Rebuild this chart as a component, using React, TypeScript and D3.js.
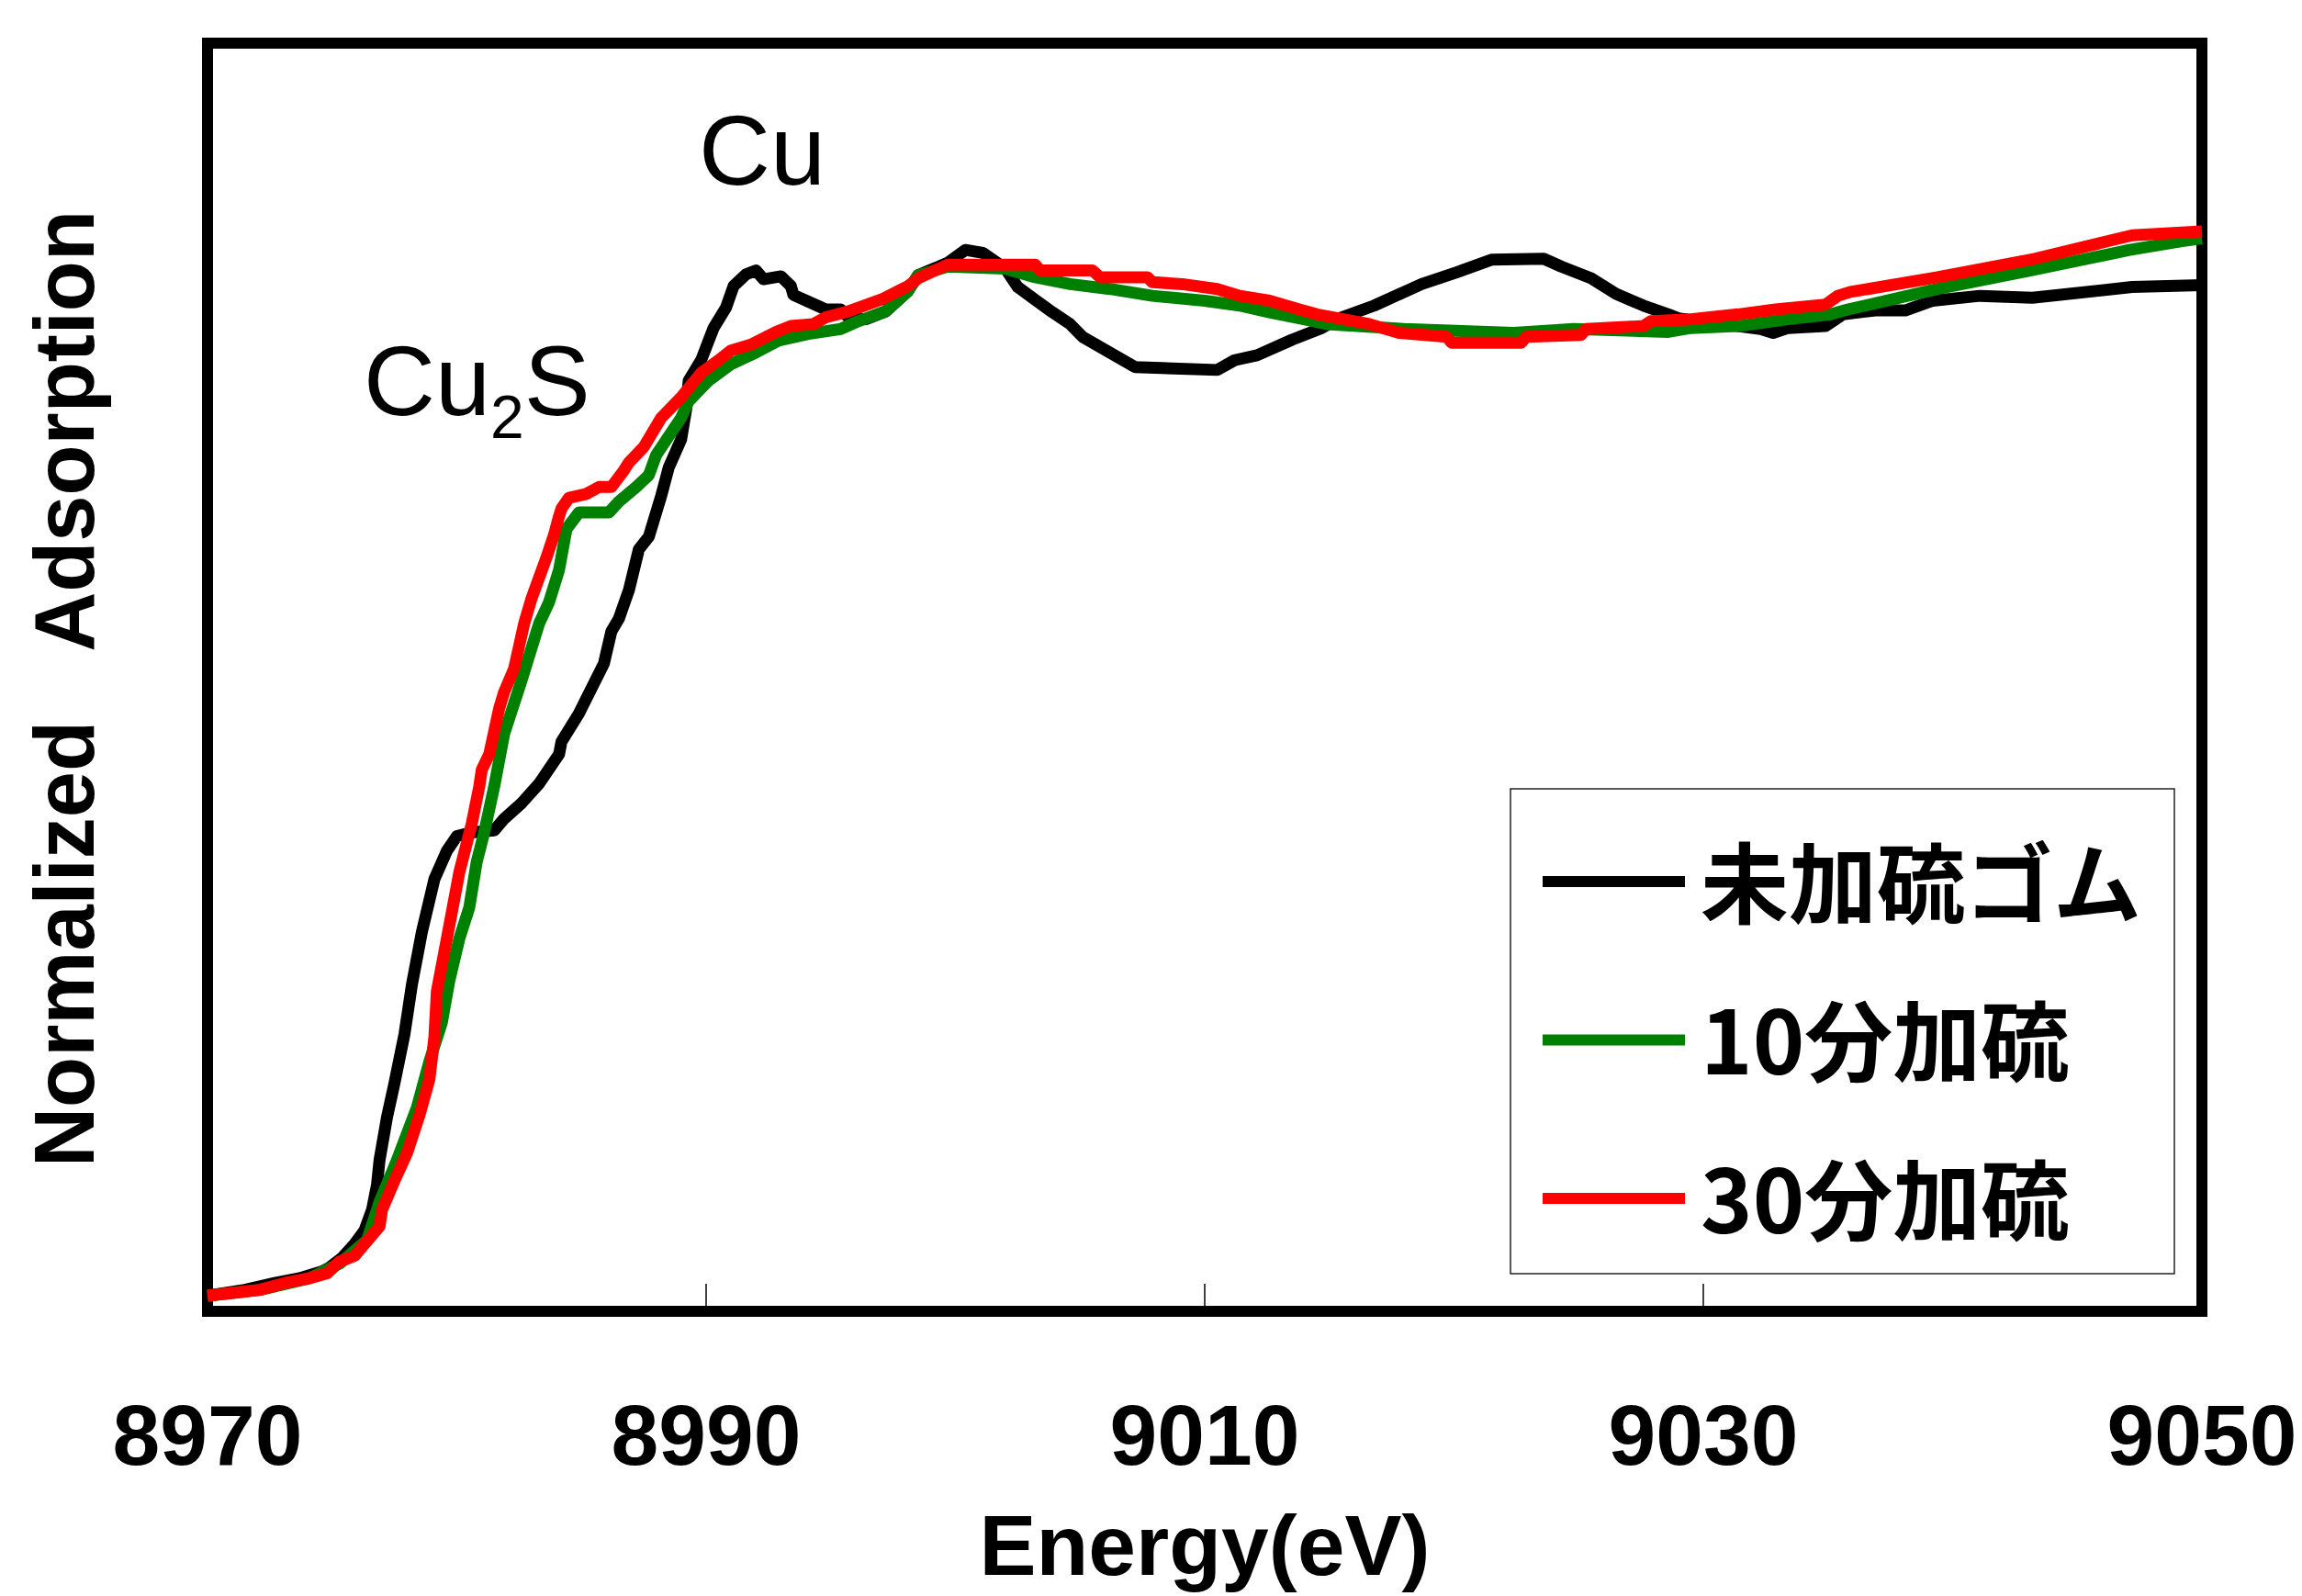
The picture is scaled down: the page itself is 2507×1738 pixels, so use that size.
import React, { useEffect, useRef } from "react";
import * as d3 from "d3";

// 未加硫ゴム
const energyUncured = [
  8970.0, 8971.5, 8972.7, 8973.7, 8974.6, 8974.9, 8975.4, 8975.9, 8976.3, 8976.6,
  8976.8, 8976.9, 8977.2, 8977.5, 8977.9, 8978.2, 8978.6, 8979.1, 8979.6, 8980.0,
  8980.6, 8981.5, 8981.9, 8982.6, 8983.3, 8984.1, 8984.2, 8984.9, 8985.9, 8986.2,
  8986.5, 8986.9, 8987.3, 8987.7, 8988.2, 8988.5, 8989.0, 8989.2, 8989.3, 8989.8,
  8990.3, 8990.8, 8991.1, 8991.6, 8992.0, 8992.3, 8993.0, 8993.4, 8993.5, 8994.8,
  8995.4, 8995.7, 8996.4, 8997.2, 8998.1, 8998.5, 8999.7, 9000.4, 9001.1, 9002.0,
  9002.5, 9003.2, 9003.9, 9004.6, 9005.1, 9007.2, 9010.5, 9011.2, 9012.1, 9013.5,
  9014.7, 9015.4, 9016.8, 9018.7, 9020.1, 9021.5, 9023.6, 9024.3, 9025.5, 9026.5,
  9027.6, 9028.6, 9029.0, 9032.3, 9032.8, 9033.4, 9034.9, 9035.6, 9036.9, 9038.1,
  9039.2, 9041.1, 9043.2, 9047.2, 9050.0
];
const absUncured = [
  0.001, 0.007, 0.014, 0.019, 0.026, 0.030, 0.040, 0.054, 0.068, 0.089,
  0.115, 0.140, 0.184, 0.219, 0.269, 0.320, 0.374, 0.428, 0.457, 0.472,
  0.476, 0.478, 0.490, 0.506, 0.526, 0.556, 0.569, 0.598, 0.649, 0.682,
  0.695, 0.724, 0.766, 0.779, 0.821, 0.850, 0.879, 0.910, 0.939, 0.960,
  0.993, 1.014, 1.036, 1.048, 1.052, 1.043, 1.046, 1.036, 1.027, 1.012,
  1.012, 1.004, 1.002, 1.010, 1.031, 1.047, 1.060, 1.073, 1.070, 1.054,
  1.035, 1.022, 1.009, 0.997, 0.984, 0.953, 0.950, 0.960, 0.965, 0.981,
  0.993, 1.003, 1.016, 1.038, 1.050, 1.063, 1.064, 1.056, 1.044, 1.028,
  1.016, 1.007, 1.003, 0.992, 0.988, 0.993, 0.995, 1.007, 1.011, 1.011,
  1.021, 1.026, 1.024, 1.035, 1.037
];

// 10分加硫
const energy10 = [
  8970.0, 8972.1, 8974.1, 8975.3, 8976.4, 8976.9, 8977.6, 8978.4, 8978.9, 8979.4,
  8979.7, 8980.1, 8980.5, 8980.8, 8981.1, 8981.5, 8981.9, 8982.6, 8983.3, 8983.7,
  8984.1, 8984.4, 8984.9, 8986.1, 8986.5, 8987.2, 8987.7, 8988.0, 8989.0, 8989.3,
  8990.1, 8991.0, 8992.0, 8992.9, 8994.1, 8995.4, 8996.1, 8997.2, 8998.1, 8998.5,
  8999.7, 9002.0, 9003.2, 9004.6, 9006.2, 9007.9, 9010.0, 9011.4, 9012.6, 9013.8,
  9014.9, 9018.0, 9022.4, 9024.8, 9028.6, 9029.5, 9031.4, 9033.4, 9035.1, 9035.8,
  9039.4, 9043.1, 9047.1, 9049.2, 9050.0
];
const abs10 = [
  0.001, 0.007, 0.019, 0.034, 0.058, 0.097, 0.140, 0.194, 0.241, 0.281,
  0.324, 0.367, 0.399, 0.446, 0.476, 0.523, 0.577, 0.632, 0.690, 0.712,
  0.745, 0.787, 0.804, 0.804, 0.815, 0.830, 0.842, 0.863, 0.901, 0.918,
  0.939, 0.956, 0.968, 0.980, 0.987, 0.992, 1.000, 1.010, 1.031, 1.047,
  1.056, 1.054, 1.045, 1.038, 1.033, 1.026, 1.021, 1.016, 1.009, 1.003,
  0.997, 0.992, 0.988, 0.992, 0.989, 0.993, 0.995, 1.002, 1.007, 1.012,
  1.033, 1.052, 1.073, 1.082, 1.085
];

// 30分加硫
const energy30 = [
  8970.0, 8972.1, 8973.1, 8974.1, 8974.8, 8975.3, 8975.9, 8976.5, 8976.9, 8977.0,
  8977.5, 8978.0, 8978.5, 8978.9, 8979.1, 8979.2, 8979.6, 8980.1, 8980.6, 8980.9,
  8981.0, 8981.3, 8981.7, 8981.9, 8982.3, 8982.7, 8983.0, 8983.6, 8983.9, 8984.1,
  8984.2, 8984.5, 8985.2, 8985.7, 8986.2, 8986.7, 8986.9, 8987.5, 8988.2, 8989.0,
  8989.8, 8990.5, 8991.0, 8991.8, 8992.8, 8993.4, 8994.3, 8994.8, 8995.7, 8997.1,
  8998.1, 8998.5, 8999.7, 9003.2, 9003.4, 9005.5, 9005.8, 9007.7, 9007.9, 9009.1,
  9010.5, 9011.4, 9012.6, 9013.8, 9014.5, 9016.6, 9017.8, 9019.7, 9019.9, 9022.7,
  9022.9, 9025.1, 9025.3, 9027.6, 9027.9, 9029.5, 9031.4, 9032.9, 9034.9, 9035.4,
  9035.9, 9039.4, 9043.3, 9047.2, 9050.0
];
const abs30 = [
  0.001, 0.007, 0.014, 0.019, 0.024, 0.036, 0.042, 0.060, 0.072, 0.089,
  0.119, 0.147, 0.186, 0.223, 0.266, 0.313, 0.367, 0.435, 0.485, 0.523,
  0.540, 0.556, 0.603, 0.620, 0.644, 0.690, 0.716, 0.758, 0.781, 0.800,
  0.808, 0.819, 0.823, 0.830, 0.830, 0.847, 0.855, 0.871, 0.901, 0.922,
  0.947, 0.960, 0.970, 0.976, 0.989, 0.995, 0.997, 1.004, 1.010, 1.023,
  1.036, 1.044, 1.058, 1.058, 1.052, 1.052, 1.045, 1.045, 1.040, 1.038,
  1.033, 1.026, 1.021, 1.012, 1.007, 0.997, 0.988, 0.984, 0.978, 0.978,
  0.984, 0.986, 0.992, 0.995, 1.000, 1.002, 1.007, 1.012, 1.017, 1.026,
  1.030, 1.045, 1.064, 1.088, 1.092
];

const xTicks = [8970, 8990, 9010, 9030, 9050];
const seriesNames = ["未加硫ゴム", "10分加硫", "30分加硫"];
const seriesColors = ["#000000", "#008000", "#ff0000"];

const width = 2507;
const height = 1738;
const plot = { left: 226, right: 2398, top: 47, bottom: 1428 };
const latin = "'Liberation Sans', Arial, sans-serif";
const jp = "'Noto Sans CJK JP', sans-serif";

const App = () => {
  const chart = useRef<SVGSVGElement>(null);

  useEffect(() => {
    const svg = d3.select(chart.current);
    svg.selectAll("*").remove();

    const x = d3.scaleLinear().domain([8970, 9050]).range([plot.left, plot.right]);
    const y = d3.scaleLinear().domain([-0.015, 1.285]).range([plot.bottom, plot.top]);

    // frame
    svg
      .append("rect")
      .attr("x", plot.left)
      .attr("y", plot.top)
      .attr("width", plot.right - plot.left)
      .attr("height", plot.bottom - plot.top)
      .attr("fill", "none")
      .attr("stroke", "#000")
      .attr("stroke-width", 12);

    // ticks, inside
    svg
      .append("g")
      .selectAll("line")
      .data(xTicks.slice(1, -1))
      .join("line")
      .attr("x1", d => x(d))
      .attr("x2", d => x(d))
      .attr("y1", plot.bottom - 6)
      .attr("y2", plot.bottom - 30)
      .attr("stroke", "#000")
      .attr("stroke-width", 1.5);

    svg
      .append("g")
      .selectAll("text")
      .data(xTicks)
      .join("text")
      .attr("x", d => x(d))
      .attr("y", 1595)
      .attr("text-anchor", "middle")
      .attr("font-family", latin)
      .attr("font-weight", 700)
      .attr("font-size", 93)
      .text(d => d);

    // curves
    const series = [
      d3.zip(energyUncured, absUncured),
      d3.zip(energy10, abs10),
      d3.zip(energy30, abs30)
    ];
    const line = d3
      .line<number[]>()
      .x(d => x(d[0]))
      .y(d => y(d[1]));

    svg
      .append("g")
      .selectAll("path")
      .data(series)
      .join("path")
      .attr("d", d => line(d))
      .attr("fill", "none")
      .attr("stroke", (d, i) => seriesColors[i])
      .attr("stroke-width", 13)
      .attr("stroke-linejoin", "round");

    // legend
    const legend = svg.append("g");
    legend
      .append("rect")
      .attr("x", 1645)
      .attr("y", 859)
      .attr("width", 723)
      .attr("height", 528)
      .attr("fill", "#fff")
      .attr("stroke", "#222")
      .attr("stroke-width", 1.5);

    const rows = legend
      .selectAll("g")
      .data(seriesNames)
      .join("g")
      .attr("transform", (d, i) => `translate(0,${960 + i * 172.5})`);
    rows
      .append("line")
      .attr("x1", 1680)
      .attr("x2", 1835)
      .attr("stroke", (d, i) => seriesColors[i])
      .attr("stroke-width", 12);
    rows
      .append("text")
      .attr("x", 1852)
      .attr("y", -4)
      .attr("dominant-baseline", "central")
      .attr("font-family", jp)
      .attr("font-weight", 700)
      .attr("font-size", 96)
      .text(d => d);

    // peak labels
    svg
      .append("text")
      .attr("x", 761)
      .attr("y", 201)
      .attr("font-family", latin)
      .attr("font-size", 108)
      .text("Cu");

    const cu2s = svg
      .append("text")
      .attr("x", 396)
      .attr("y", 452)
      .attr("font-family", latin)
      .attr("font-size", 108);
    cu2s.append("tspan").text("Cu");
    cu2s.append("tspan").attr("font-size", 66).attr("dy", 25).text("2");
    cu2s.append("tspan").attr("dy", -25).text("S");

    // axis titles
    svg
      .append("text")
      .attr("x", (plot.left + plot.right) / 2)
      .attr("y", 1715)
      .attr("text-anchor", "middle")
      .attr("font-family", latin)
      .attr("font-weight", 700)
      .attr("font-size", 93)
      .text("Energy(eV)");

    svg
      .append("text")
      .attr("transform", "translate(102,750) rotate(-90)")
      .attr("text-anchor", "middle")
      .attr("font-family", latin)
      .attr("font-weight", 700)
      .attr("font-size", 93)
      .attr("textLength", 1042)
      .attr("lengthAdjust", "spacingAndGlyphs")
      .text("Normalized\u00A0\u00A0\u00A0Adsorption");
  }, []);

  return (
    <svg
      ref={chart}
      width={width}
      height={height}
      viewBox={`0 0 ${width} ${height}`}
      style={{ position: "fixed", left: 0, top: 0, background: "#fff" }}
    ></svg>
  );
};

export default App;
